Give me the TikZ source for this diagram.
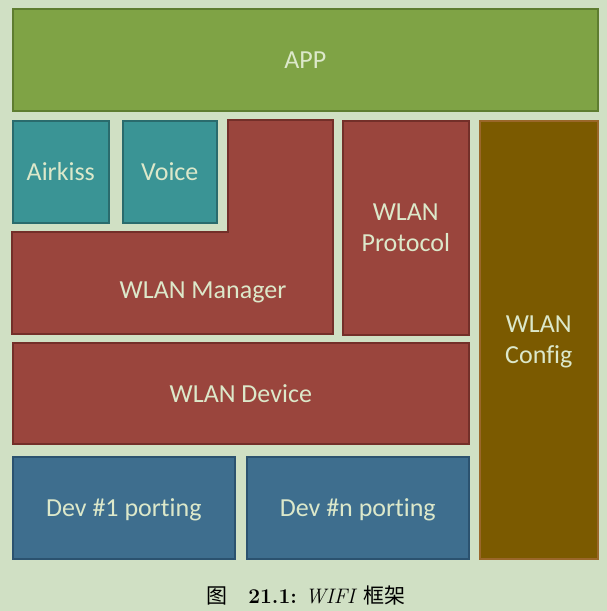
\documentclass[tikz,border=0pt]{standalone}
\usepackage{fontspec}
\newfontfamily\carlito[Ligatures=NoCommon]{Carlito}
\newfontfamily\cjk{Noto Sans CJK SC}
\usepackage{tikz}
\usetikzlibrary{positioning}
\definecolor{bgcol}{HTML}{D0E0C4}
\definecolor{appcol}{HTML}{7FA345}
\definecolor{appedge}{HTML}{5E7D30}
\definecolor{tealcol}{HTML}{3A9495}
\definecolor{tealedge}{HTML}{2A6B6D}
\definecolor{redcol}{HTML}{9A453D}
\definecolor{rededge}{HTML}{732F29}
\definecolor{bluecol}{HTML}{3E6E8E}
\definecolor{blueedge}{HTML}{2B526F}
\definecolor{browncol}{HTML}{7B5A00}
\definecolor{brownedge}{HTML}{9A672A}
\definecolor{txtcol}{HTML}{DCE8CA}
\tikzset{
  blk/.style={draw, line width=1.6pt, anchor=north west, inner sep=0pt,
    text depth=0pt, align=center, text=txtcol,
    font=\carlito\fontsize{26}{31}\selectfont},
  appbox/.style={blk, fill=appcol, draw=appedge},
  tealbox/.style={blk, fill=tealcol, draw=tealedge},
  redbox/.style={blk, fill=redcol, draw=rededge},
  bluebox/.style={blk, fill=bluecol, draw=blueedge},
  brownbox/.style={blk, fill=browncol, draw=brownedge},
  lbl/.style={text=txtcol, font=\carlito\fontsize{26}{31}\selectfont, align=center}
}

\begin{document}
\begin{tikzpicture}[x=1pt, y=-1pt]

% --- page (pixel units, y down) ---
\fill[bgcol] (0,0) rectangle (607,611);
\useasboundingbox (0,0) rectangle (607,611);

% --- top layer ---
\node[appbox, minimum width=585pt, minimum height=102pt] (app) at (12,8) {APP};

% --- config helpers ---
\node[tealbox, minimum width=96pt, minimum height=102pt] (airkiss) at (12,120) {Airkiss};
\node[tealbox, minimum width=94pt, minimum height=102pt] (voice) at (122,120) {Voice};

% --- WLAN manager (L shape) ---
\draw[line width=1.6pt, fill=redcol, draw=rededge]
  (228,120) -- (333,120) -- (333,334) -- (12,334) -- (12,232) -- (228,232) -- cycle;
\node[lbl] (manager) at (203,292) {WLAN Manager};

\node[redbox, minimum width=126pt, minimum height=214pt] (protocol) at (342,120) {WLAN\\Protocol};
\node[brownbox, minimum width=118pt, minimum height=438pt] (config) at (479,120) {WLAN\\Config};

% --- device layer ---
\node[redbox, minimum width=456pt, minimum height=101pt] (device) at (12,342) {WLAN Device};

% --- porting layer ---
\node[bluebox, minimum width=222pt, minimum height=102pt] (dev1) at (12,456) {Dev \#1 porting};
\node[bluebox, minimum width=222pt, minimum height=102pt] (devn) at (246,456) {Dev \#n porting};

% --- caption ---
\node[font=\fontsize{21}{24}\selectfont] (caption) at (306,596)
  {{\cjk 图}\quad\textbf{21.1:} \textit{WIFI} {\cjk 框架}};

\end{tikzpicture}
\end{document}
